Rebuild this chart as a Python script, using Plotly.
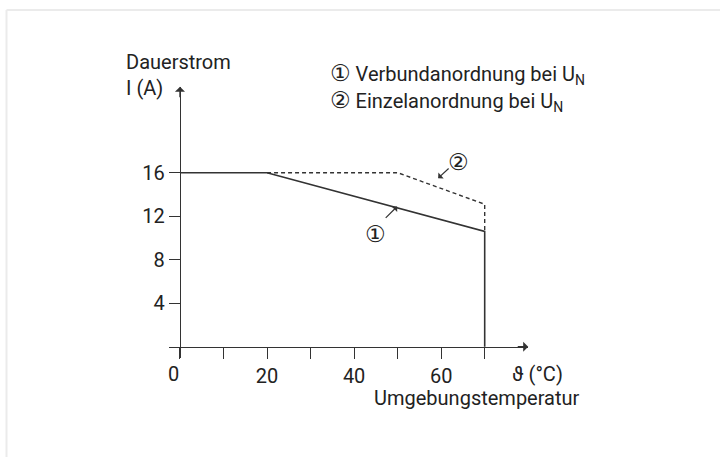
import plotly.graph_objects as go

# ---- data ----
temp_verbund = [0, 20, 70, 70]
strom_verbund = [16, 16, 10.6, 0]
temp_einzel = [20, 50, 70, 70]
strom_einzel = [16, 16, 13.1, 10.6]

x_tickvals = [0, 10, 20, 30, 40, 50, 60, 70]
x_ticktext = ["", "", "20", "", "40", "", "60", ""]
x_zero_label = "0"
y_tickvals = [4, 8, 12, 16]
y_ticktext = ["4", "8", "12", "16"]

W, H = 720, 457
FONT = "Roboto, Liberation Sans Narrow, DejaVu Sans Condensed, sans-serif"
FS = 20
TXT = "#222222"
LINE = "#333333"
CIRC = "<span style='font-family:DejaVu Sans;font-size:23px'>{}</span>"

# axis geometry (pixels)
x0_px, x70_px = 180.0, 484.7
y0_px, y16_px = 346.7, 172.7
sx = (x70_px - x0_px) / 70.0
sy = (y0_px - y16_px) / 16.0
xr = [-2.5, 80.0]
yr = [-1.0, 23.9]
xd = [(x0_px + xr[0] * sx) / W, (x0_px + xr[1] * sx) / W]
yd = [(H - (y0_px - yr[0] * sy)) / H, (H - (y0_px - yr[1] * sy)) / H]

def px(x):
    return x / W

def py(y):
    return 1 - y / H

fig = go.Figure()
fig.add_trace(go.Scatter(x=temp_verbund, y=strom_verbund, mode="lines",
                         line=dict(color=LINE, width=1.6), showlegend=False,
                         cliponaxis=False))
fig.add_trace(go.Scatter(x=temp_einzel, y=strom_einzel, mode="lines",
                         line=dict(color=LINE, width=1.4, dash="4px,3px"),
                         showlegend=False, cliponaxis=False))

ann = []
# axis arrowheads
ann.append(dict(x=xr[1], y=0, xref="x", yref="y", ax=-12, ay=0, text="",
                showarrow=True, arrowhead=1, arrowsize=1.2, arrowwidth=1.4,
                arrowcolor=LINE))
ann.append(dict(x=0, y=yr[1], xref="x", yref="y", ax=0, ay=12, text="",
                showarrow=True, arrowhead=1, arrowsize=1.2, arrowwidth=1.4,
                arrowcolor=LINE))
# curve markers
ann.append(dict(x=49.9, y=12.9, xref="x", yref="y", ax=-13, ay=13, text="",
                showarrow=True, arrowhead=1, arrowsize=1.1, arrowwidth=1.2,
                arrowcolor=LINE))
ann.append(dict(x=44.8, y=10.4, xref="x", yref="y", text=CIRC.format("①"),
                showarrow=False, font=dict(size=FS, color=TXT, family=FONT)))
ann.append(dict(x=59.3, y=15.5, xref="x", yref="y", ax=12, ay=-11, text="",
                showarrow=True, arrowhead=1, arrowsize=1.1, arrowwidth=1.2,
                arrowcolor=LINE))
ann.append(dict(x=63.9, y=17.0, xref="x", yref="y", text=CIRC.format("②"),
                showarrow=False, font=dict(size=FS, color=TXT, family=FONT)))

# texts
def label(text, x, y, xanchor="left"):
    ann.append(dict(x=px(x), y=py(y), xref="paper", yref="paper", text=text,
                    showarrow=False, xanchor=xanchor, yanchor="middle",
                    font=dict(size=FS, color=TXT, family=FONT)))

label("Dauerstrom", 124, 62)
label("I (A)", 124, 88)
label(CIRC.format("①") + " Verbundanordnung bei U<sub>N</sub>", 328, 74)
label(CIRC.format("②") + " Einzelanordnung bei U<sub>N</sub>", 328, 101)
label("ϑ (°C)", 510, 374)
label("Umgebungstemperatur", 372, 398)
label(x_zero_label, 173, 374, xanchor="center")

fig.update_layout(
    width=W, height=H,
    margin=dict(l=0, r=0, t=0, b=0),
    paper_bgcolor="white", plot_bgcolor="white",
    font=dict(family=FONT, size=FS, color=TXT),
    annotations=ann,
    shapes=[
        dict(type="line", xref="paper", yref="paper", x0=px(6.5), x1=px(6.5),
             y0=py(10), y1=0, line=dict(color="#ebebeb", width=2)),
        dict(type="line", xref="paper", yref="paper", x0=px(6.5), x1=1,
             y0=py(10), y1=py(10), line=dict(color="#ebebeb", width=2)),
    ],
    xaxis=dict(range=xr, domain=xd, anchor="free", position=(H - y0_px) / H,
               showgrid=False, zeroline=False, showline=True, linecolor=LINE,
               linewidth=1.4, ticks="outside", ticklen=11, tickwidth=1.4,
               tickcolor=LINE, tickvals=x_tickvals, ticktext=x_ticktext,
               tickfont=dict(size=FS, color=TXT, family=FONT)),
    yaxis=dict(range=yr, domain=yd, anchor="free", position=x0_px / W,
               showgrid=False, zeroline=False, showline=True, linecolor=LINE,
               linewidth=1.4, ticks="outside", ticklen=11, tickwidth=1.4,
               tickcolor=LINE, tickvals=y_tickvals, ticktext=y_ticktext,
               tickfont=dict(size=FS, color=TXT, family=FONT)),
)

fig.write_html("out.html", config={"displayModeBar": False},
               post_script="document.body.style.margin='0';document.body.style.overflow='hidden';")
